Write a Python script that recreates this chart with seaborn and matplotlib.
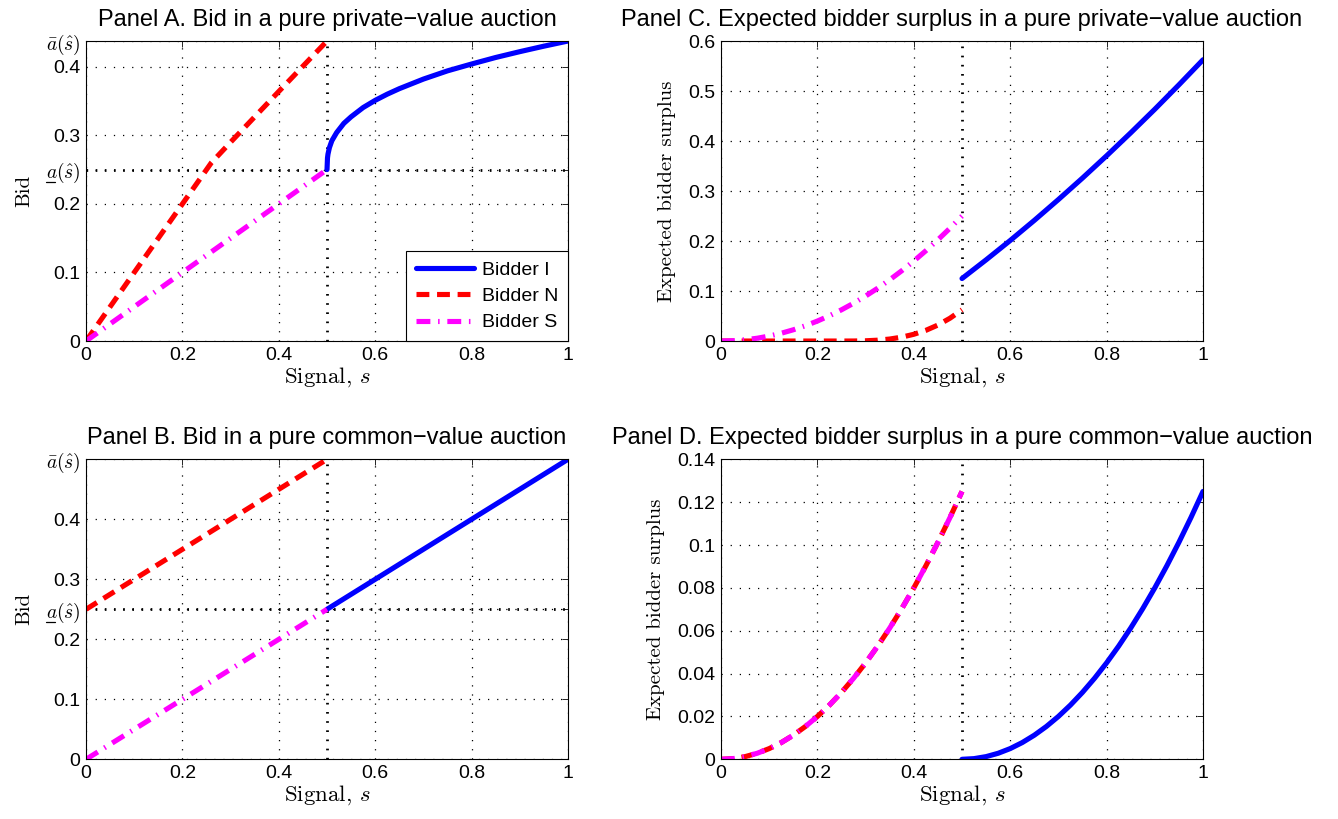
"""Bids and expected bidder surplus in private- and common-value auctions (2x2 panels)."""

import matplotlib

matplotlib.use("Agg")
import matplotlib.pyplot as plt
from matplotlib.lines import Line2D
import seaborn as sns

# ---- data ----
a_low = 0.25  # a_(s^)
a_bar_A = 0.4375  # a-bar(s^) in panel A
a_bar_B = 0.5  # a-bar(s^) in panel B

s_low = [0.0, 0.025, 0.05, 0.075, 0.1, 0.125, 0.15, 0.175, 0.2, 0.225, 0.25,
         0.275, 0.3, 0.325, 0.35, 0.375, 0.4, 0.425, 0.45, 0.475, 0.5]
s_high = [0.5, 0.525, 0.55, 0.575, 0.6, 0.625, 0.65, 0.675, 0.7, 0.725, 0.75,
          0.775, 0.8, 0.825, 0.85, 0.875, 0.9, 0.925, 0.95, 0.975, 1.0]
s_low_c = [0.0, 0.1, 0.2, 0.3, 0.4, 0.5]
s_high_c = [0.5, 0.55, 0.6, 0.65, 0.7, 0.75, 0.8, 0.85, 0.9, 0.95, 1.0]

# Panel A: pure private-value auction, bids
bidA_I_s = [0.5, 0.501, 0.502, 0.505, 0.51, 0.52, 0.535, 0.55, 0.575, 0.6, 0.625,
            0.65, 0.675, 0.7, 0.75, 0.8, 0.85, 0.9, 0.95, 1.0]
bidA_I = [0.25, 0.267, 0.2725, 0.282, 0.292, 0.304, 0.3175, 0.327, 0.3405, 0.351, 0.360,
          0.368, 0.375, 0.382, 0.394, 0.404, 0.4135, 0.422, 0.430, 0.4375]
bidA_N_s = [0.0, 0.1, 0.2, 0.26, 0.3, 0.4, 0.5]
bidA_N = [0.0, 0.1, 0.2, 0.26, 0.29, 0.364, 0.4375]
bidA_S = [0.0, 0.05, 0.1, 0.15, 0.2, 0.25]

# Panel B: pure common-value auction, bids
bidB_I = [0.25, 0.3, 0.35, 0.4, 0.45, 0.5]
bidB_N = [0.25, 0.3, 0.35, 0.4, 0.45, 0.5]
bidB_S = [0.0, 0.05, 0.1, 0.15, 0.2, 0.25]
s_high_B = [0.5, 0.6, 0.7, 0.8, 0.9, 1.0]

# Panel C: pure private-value auction, expected surplus
surC_I = [0.125, 0.1624, 0.2011, 0.2413, 0.283, 0.326, 0.3705, 0.4164, 0.4636, 0.5124, 0.5625]
surC_N = [0.0, 0.0, 0.0, 0.0, 0.0, 0.0, 0.0, 0.0, 0.0, 0.0, 0.0,
          0.00006, 0.0005, 0.0017, 0.004, 0.0078, 0.0135, 0.0214, 0.032, 0.0456, 0.0625]
surC_S = [0.0, 0.000625, 0.0025, 0.005625, 0.01, 0.015625, 0.0225, 0.030625, 0.04, 0.050625,
          0.0625, 0.075625, 0.09, 0.105625, 0.1225, 0.140625, 0.16, 0.180625, 0.2025,
          0.225625, 0.25]

# Panel D: pure common-value auction, expected surplus
surD_I = [0.0, 0.0003125, 0.00125, 0.0028125, 0.005, 0.0078125, 0.01125, 0.0153125, 0.02,
          0.0253125, 0.03125, 0.0378125, 0.045, 0.0528125, 0.06125, 0.0703125, 0.08,
          0.0903125, 0.10125, 0.1128125, 0.125]
surD_N = [0.0, 0.0003125, 0.00125, 0.0028125, 0.005, 0.0078125, 0.01125, 0.0153125, 0.02,
          0.0253125, 0.03125, 0.0378125, 0.045, 0.0528125, 0.06125, 0.0703125, 0.08,
          0.0903125, 0.10125, 0.1128125, 0.125]
surD_S = [0.0, 0.0003125, 0.00125, 0.0028125, 0.005, 0.0078125, 0.01125, 0.0153125, 0.02,
          0.0253125, 0.03125, 0.0378125, 0.045, 0.0528125, 0.06125, 0.0703125, 0.08,
          0.0903125, 0.10125, 0.1128125, 0.125]

x_ticks = [0, 0.2, 0.4, 0.6, 0.8, 1]
x_ticklabels = ["0", "0.2", "0.4", "0.6", "0.8", "1"]
yticks_C = [0, 0.1, 0.2, 0.3, 0.4, 0.5, 0.6]
yticklabels_C = ["0", "0.1", "0.2", "0.3", "0.4", "0.5", "0.6"]
yticks_D = [0, 0.02, 0.04, 0.06, 0.08, 0.1, 0.12, 0.14]
yticklabels_D = ["0", "0.02", "0.04", "0.06", "0.08", "0.1", "0.12", "0.14"]

# ---- style ----
sns.set_style("white")
plt.rcParams["font.family"] = ["Liberation Sans", "DejaVu Sans"]
plt.rcParams["mathtext.fontset"] = "cm"
plt.rcParams["axes.edgecolor"] = "black"
plt.rcParams["axes.linewidth"] = 0.8
plt.rcParams["text.color"] = "black"
plt.rcParams["axes.labelcolor"] = "black"
plt.rcParams["axes.titlecolor"] = "black"

LINE_STYLE = {
    "Bidder I": dict(color="#0000ff", linestyle="-"),
    "Bidder N": dict(color="#ff0000", linestyle=(0, (2.5, 1.5))),
    "Bidder S": dict(color="#ff00ff", linestyle=(0, (2.7, 1.5, 0.3, 1.5))),
}
LW = 3.7
TICK_SIZE = 14
LABEL_FONT = "cmr10"

A_LOW_LABEL = r"$a(\hat{s})$"  # underline is added by hand below
A_BAR_LABEL = r"$\bar{a}(\hat{s})$"


def draw_curves(ax, curves, legend=False):
    for name, s, v in curves:
        st = LINE_STYLE[name]
        kws = dict(color=st["color"], linestyle=st["linestyle"], linewidth=LW)
        if legend:
            kws["label"] = name
        sns.lineplot(x=s, y=v, ax=ax, estimator=None, sort=False, legend=False, **kws)


def decorate(ax, title, ylabel, ylim, yticks, yticklabels, hline=None):
    ax.set_xlim(0, 1)
    ax.set_ylim(*ylim)
    ax.set_xticks(x_ticks)
    ax.set_xticklabels(x_ticklabels)
    ax.set_yticks(yticks)
    ax.set_yticklabels(yticklabels)
    ax.tick_params(direction="in", top=True, right=True, length=4, width=0.6,
                   labelsize=TICK_SIZE, pad=4, colors="black")
    ax.grid(True, color="black", linewidth=0.9, linestyle=(0, (1, 6.3)))
    ax.axvline(0.5, color="black", linewidth=2.0, linestyle=(0, (0.6, 2.7)), zorder=1)
    if hline is not None:
        ax.axhline(hline, color="black", linewidth=2.0, linestyle=(0, (0.6, 2.7)), zorder=1)
    ax.set_title(title, fontsize=17, pad=11, color="black")
    ax.set_xlabel(r"Signal, $s$", fontfamily=LABEL_FONT, fontsize=16.5, labelpad=1)
    ax.set_ylabel(ylabel, fontfamily=LABEL_FONT, fontsize=15, labelpad=9)
    for sp in ax.spines.values():
        sp.set_visible(True)
        sp.set_color("black")


def underline_a_label(fig, ax, idx):
    """mathtext has no \\underline, so draw a short bar under the 'a'."""
    renderer = fig.canvas.get_renderer()
    lab = ax.get_yticklabels()[idx]
    bb = lab.get_window_extent(renderer)
    inv = fig.transFigure.inverted()
    x0 = bb.x0 + 0.01 * bb.width
    x1 = bb.x0 + 0.27 * bb.width
    y = bb.y0 + 0.13 * bb.height
    (fx0, fy), (fx1, _) = inv.transform([(x0, y), (x1, y)])
    fig.add_artist(Line2D([fx0, fx1], [fy, fy], transform=fig.transFigure,
                          color="black", linewidth=0.9))


fig = plt.figure(figsize=(13.38, 8.19), dpi=100)
ax_A = fig.add_axes([0.0643, 0.5836, 0.3602, 0.3663])
ax_B = fig.add_axes([0.0643, 0.0729, 0.3602, 0.3663])
ax_C = fig.add_axes([0.5389, 0.5836, 0.3602, 0.3663])
ax_D = fig.add_axes([0.5389, 0.0729, 0.3602, 0.3663])

# Panel A
draw_curves(ax_A, [("Bidder I", bidA_I_s, bidA_I),
                   ("Bidder N", bidA_N_s, bidA_N),
                   ("Bidder S", s_low_c, bidA_S)], legend=True)
decorate(ax_A, "Panel A. Bid in a pure private\u2212value auction", "Bid",
         (0, a_bar_A), [0, 0.1, 0.2, a_low, 0.3, 0.4, a_bar_A],
         ["0", "0.1", "0.2", A_LOW_LABEL, "0.3", "0.4", A_BAR_LABEL], hline=a_low)
leg = ax_A.legend(loc="lower right", frameon=True, fancybox=False, framealpha=1,
                  edgecolor="black", fontsize=14, handlelength=3.0, handletextpad=0.4,
                  borderaxespad=0, borderpad=0.5, labelspacing=0.45)
leg.get_frame().set_linewidth(0.8)
for txt in leg.get_texts():
    txt.set_color("black")

# Panel B
draw_curves(ax_B, [("Bidder I", s_high_B, bidB_I),
                   ("Bidder N", s_low_c, bidB_N),
                   ("Bidder S", s_low_c, bidB_S)])
decorate(ax_B, "Panel B. Bid in a pure common\u2212value auction", "Bid",
         (0, a_bar_B), [0, 0.1, 0.2, a_low, 0.3, 0.4, a_bar_B],
         ["0", "0.1", "0.2", A_LOW_LABEL, "0.3", "0.4", A_BAR_LABEL], hline=a_low)

# Panel C
draw_curves(ax_C, [("Bidder I", s_high_c, surC_I),
                   ("Bidder N", s_low, surC_N),
                   ("Bidder S", s_low, surC_S)])
decorate(ax_C, "Panel C. Expected bidder surplus in a pure private\u2212value auction",
         "Expected bidder surplus", (0, 0.6), yticks_C, yticklabels_C)

# Panel D
draw_curves(ax_D, [("Bidder I", s_high, surD_I),
                   ("Bidder N", s_low, surD_N),
                   ("Bidder S", s_low, surD_S)])
decorate(ax_D, "Panel D. Expected bidder surplus in a pure common\u2212value auction",
         "Expected bidder surplus", (0, 0.14), yticks_D, yticklabels_D)

fig.canvas.draw()
underline_a_label(fig, ax_A, 3)
underline_a_label(fig, ax_B, 3)

fig.savefig("out.png", dpi=100)
